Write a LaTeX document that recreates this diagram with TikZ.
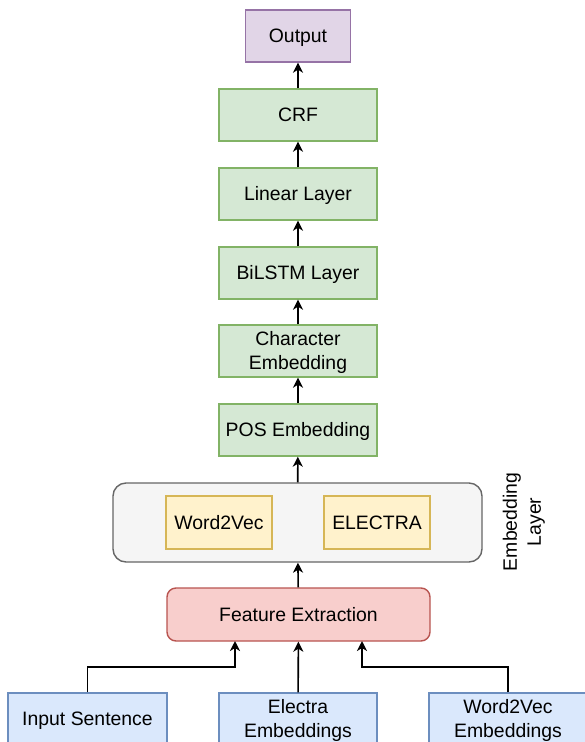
\documentclass[tikz,border=0pt]{standalone}
\usepackage{fontspec}
\setmainfont{Liberation Sans}
\usetikzlibrary{arrows.meta}
\definecolor{gfill}{HTML}{D5E8D4}\definecolor{gdraw}{HTML}{82B366}
\definecolor{pfill}{HTML}{E1D5E7}\definecolor{pdraw}{HTML}{9673A6}
\definecolor{yfill}{HTML}{FFF2CC}\definecolor{ydraw}{HTML}{D6B656}
\definecolor{rfill}{HTML}{F8CECC}\definecolor{rdraw}{HTML}{B85450}
\definecolor{bfill}{HTML}{DAE8FC}\definecolor{bdraw}{HTML}{6C8EBF}
\definecolor{cfill}{HTML}{F5F5F5}\definecolor{cdraw}{HTML}{666666}
\begin{document}
\begin{tikzpicture}[x=1pt,y=-1pt,
  every node/.style={font=\fontsize{19.4}{24}\selectfont, align=center, inner sep=0pt, line width=1.4pt},
  one/.style={text height=17.5pt, text depth=3.6pt},
  two/.style={text height=41.5pt, text depth=3.6pt},
  box/.style={draw, rectangle, minimum height=52pt},
  green/.style={box, fill=gfill, draw=gdraw, minimum width=158pt},
  arr/.style={line width=1.6pt, -{Stealth[length=10pt,width=10pt,inset=3pt]}}]
\useasboundingbox (0,0) rectangle (584,742);
\node[box, one, fill=pfill, draw=pdraw, minimum width=105pt] (out) at (298,36) {Output};
\node[green, one] (crf) at (298,115) {CRF};
\node[green, one] (lin) at (298,194) {Linear Layer};
\node[green, one] (bil) at (298,273) {BiLSTM Layer};
\node[green, two] (chr) at (298,351) {Character\\Embedding};
\node[green, one] (pos) at (298,430) {POS Embedding};
\node[draw=cdraw, fill=cfill, rounded corners=13pt, minimum width=369pt, minimum height=79pt] (emb) at (297.5,522.5) {};
\node[box, one, fill=yfill, draw=ydraw, minimum width=106pt, minimum height=53pt] (w2v) at (219,522.5) {Word2Vec};
\node[box, one, fill=yfill, draw=ydraw, minimum width=106pt, minimum height=53pt] (ele) at (377,522.5) {ELECTRA};
\node[rotate=90, two] (lbl) at (522,522) {Embedding\\Layer};
\node[box, one, fill=rfill, draw=rdraw, rounded corners=9pt, minimum width=263pt, minimum height=53pt] (fe) at (298.5,614.5) {Feature Extraction};
\node[box, one, fill=bfill, draw=bdraw, minimum width=159pt] (inp) at (87.5,719) {Input Sentence};
\node[box, two, fill=bfill, draw=bdraw, minimum width=158pt] (eemb) at (298,719) {Electra\\Embeddings};
\node[box, two, fill=bfill, draw=bdraw, minimum width=158pt] (wemb) at (508,719) {Word2Vec\\Embeddings};
\coordinate (fe1) at (235,641);
\coordinate (fe3) at (362,641);
\draw[arr] (crf) -- (out);
\draw[arr] (lin) -- (crf);
\draw[arr] (bil) -- (lin);
\draw[arr] (chr) -- (bil);
\draw[arr] (pos) -- (chr);
\draw[arr] (emb) -- (pos);
\draw[arr] (fe) -- (emb);
\draw[arr] (inp.north) |- (235,667) -- (fe1);
\draw[arr] (eemb) -- (fe);
\draw[arr] (wemb.north) |- (362,667) -- (fe3);
\end{tikzpicture}
\end{document}
